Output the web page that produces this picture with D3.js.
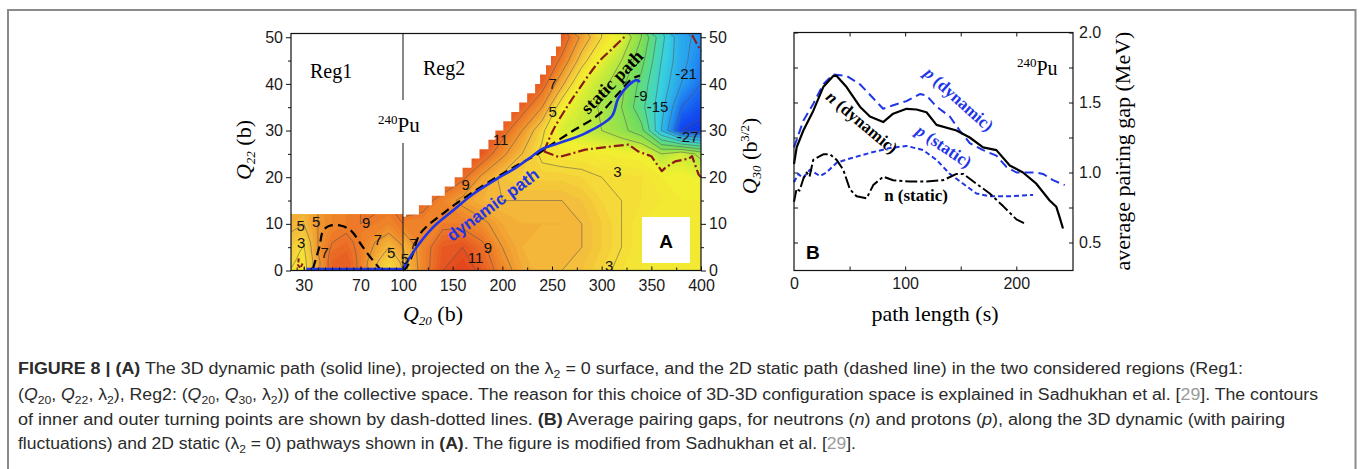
<!DOCTYPE html>
<html>
<head>
<meta charset="utf-8">
<title>Figure 8 - 240Pu fission paths</title>
<script src="https://d3js.org/d3.v7.min.js"></script>
<style>
  body { margin: 0; background: #fff; }
  #fig { display: block; }
  .tk text { font-family: "Liberation Sans", Arial, sans-serif; font-size: 16px; fill: #1a1a1a; }
  .tk line { stroke: #111; stroke-width: 1; }
  .serif { font-family: "Liberation Serif", "Times New Roman", serif; }
  .sans { font-family: "Liberation Sans", Arial, sans-serif; }
</style>
</head>
<body>
<svg id="fig" width="1360" height="469"></svg>
<script>
// ---------- panel A, Reg1: energy (MeV) on Q20 x Q22 grid, rows from Q22=0 up ----------
const reg1Q20 = [20, 30, 40, 50, 60, 70, 80, 90, 100];
const reg1Q22 = [0, 2, 4, 6, 8, 10, 12];
const reg1E = [
  [3.0, 2.0, 6.5, 10.0, 10.5, 8.5, 5.0, 3.0, 5.0],
  [3.5, 2.3, 6.5, 10.0, 10.5, 8.5, 5.5, 3.5, 5.5],
  [4.0, 2.6, 7.0, 9.5, 10.0, 8.5, 6.5, 4.5, 6.5],
  [4.5, 3.2, 7.0, 9.0, 9.5, 8.5, 7.0, 5.5, 7.5],
  [5.0, 4.3, 7.0, 8.5, 9.0, 8.5, 8.0, 7.0, 8.5],
  [5.5, 5.0, 7.0, 8.0, 8.5, 9.0, 8.5, 8.0, 9.0],
  [6.0, 5.5, 7.0, 8.0, 8.5, 9.0, 9.0, 8.5, 9.5]
];

// ---------- panel A, Reg2: energy (MeV) on Q20 x Q30 grid ----------
const reg2Q20 = [100, 120, 140, 160, 180, 200, 220, 240, 260, 280, 300, 320, 340, 360, 380, 400];
const reg2Q30 = [0, 5, 10, 15, 20, 25, 30, 35, 40, 45, 50];
const reg2E = [
  [4, 8, 11, 12, 10.5, 8, 6, 5, 5, 4.5, 3.5, 2.5, 2, 1.5, 1.5, 1.5],
  [5, 8, 10.5, 11, 9.5, 7, 5.5, 5, 5, 5, 4, 3, 2, 1.5, 1.5, 1.5],
  [8, 8, 8.5, 8.5, 7.5, 6, 5.5, 5.5, 5.5, 5, 4, 3, 2, 1.5, 1.5, 1.5],
  [11.5, 10, 8, 6.5, 5.5, 5, 5, 5, 5, 4.5, 3.5, 3, 2.5, 2, 1.5, 1.5],
  [11.5, 11.5, 11.5, 9.5, 6.5, 4.5, 3.8, 3.8, 3.8, 3.5, 3, 2.8, 2.5, 1.5, 1, 0.3],
  [11.5, 11.5, 11.5, 11.5, 10.5, 7.5, 5, 2.5, 2, 2, 1.5, 1.2, 1, -3, -1, -4],
  [11.5, 11.5, 11.5, 11.5, 11.5, 10, 7, 3.5, -0.5, -1.5, -3, -5, -8, -18, -27, -28],
  [11.5, 11.5, 11.5, 11.5, 11.5, 11.5, 10, 7, 1.5, -1, -3.5, -6, -11, -17, -24, -26],
  [11.5, 11.5, 11.5, 11.5, 11.5, 11.5, 11.5, 10, 5.5, 0.5, -2, -5, -10, -16, -21, -24],
  [11.5, 11.5, 11.5, 11.5, 11.5, 11.5, 11.5, 11.5, 8.5, 4, 0.2, -3, -8, -15, -20, -23],
  [11.5, 11.5, 11.5, 11.5, 11.5, 11.5, 11.5, 11.5, 10.5, 6.5, 3, 0, -6, -14, -20, -22]
];

// staircase edge of the computed Reg2 region (white above it)
const stairQ20 = [100, 103, 116, 129, 142, 152, 160, 169, 177, 186, 193, 201, 209, 217, 225, 233, 238, 244, 249, 254, 259];
const stairQ30 = [11.5, 12, 14, 16, 18, 20, 22, 24, 26, 28, 30, 32, 34, 36, 38, 40, 42, 44, 46, 48, 50];

// energy colour map
const cmapE = [-30, -26, -21, -16, -12, -8, -4, -1, 1, 3, 5, 7, 9, 11, 13, 15];
const cmapC = ['#0a1ed8', '#1450f0', '#28a0f0', '#38d0e0', '#50dca0', '#70dc60', '#a0e448', '#d0ec38',
               '#f2f030', '#f5dc38', '#f4bb3c', '#f0982e', '#ec7628', '#e65220', '#dc3418', '#d02010'];
const fillLevels = d3.range(-30, 14.01, 0.5);
const lines1 = [3, 5, 7, 9];
const lines2 = [3, 5, 7, 9, 11, -3, -6, -9, -12, -15, -18, -21, -24, -27];

// paths in panel A
const dyn1Q20 = [31.8, 100], dyn1Q22 = [0.3, 0.3];
const dyn2Q20 = [100, 113.7, 130, 150, 170, 193.4, 213.4, 230, 240, 257, 283.5, 310, 316.7, 327, 335, 338.5];
const dyn2Q30 = [0.4, 5, 9.2, 12.8, 16.3, 19.5, 22, 24.5, 26, 27.3, 29.4, 33, 36.9, 39.7, 40.8, 40.4];
const sta1Q20 = [36.5, 41.2, 43.6, 48.3, 56.5, 63.5, 69.5, 75.3, 83.6];
const sta1Q22 = [0.4, 5.3, 8.5, 9.6, 9.6, 8.5, 6.0, 3.5, 0.4];
const sta2Q20 = [100, 103.6, 110, 117, 143.8, 177, 210.4, 237.5, 246, 270, 297, 317, 330, 338.5];
const sta2Q30 = [0, 0.7, 3.6, 7.8, 12.8, 17.7, 22, 25.2, 26.5, 29.8, 33.4, 38, 41, 41.8];
const tp1Q20 = [26.5, 25.9, 27.5, 29.2], tp1Q22 = [2.6, 1.2, 0.5, 1.5];
const tpUpQ20 = [242, 250.5, 264, 277.5, 297, 310.5, 324];
const tpUpQ30 = [25.5, 29.8, 34.7, 39, 44.7, 47.5, 50.3];
const tpLoQ20 = [242, 257, 283.5, 310, 327, 337, 350, 360.5, 364, 374, 388, 391, 397.5, 400];
const tpLoQ30 = [25.5, 24.3, 25.9, 26.6, 27, 25.5, 24.5, 21.3, 22, 23.4, 24, 24.5, 20.6, 20];
const tpCornerQ20 = [391, 400], tpCornerQ30 = [50.5, 47];

// contour labels
const lab1 = ['5', '3', '5', '7', '9', '7', '5'];
const lab1Q20 = [27.8, 28.2, 38.8, 44.7, 74.0, 82.3, 91.7];
const lab1Q22 = [9.6, 6.0, 10.6, 3.9, 10.3, 6.7, 3.9];
const lab2 = ['7', '5', '11', '9', '7', '5', '9', '11', '3', '3', '-9', '-15', '-21', '-27'];
const lab2Q20 = [250.7, 250.7, 198.3, 163.2, 110.4, 102.0, 185.5, 173.1, 315.9, 307.5, 339.5, 356.3, 384.9, 386.6];
const lab2Q30 = [40.0, 34.0, 28.0, 18.4, 5.7, 2.5, 5.0, 2.7, 21.3, 1.1, 37.6, 35.1, 42.2, 28.7];

// ---------- panel B: average pairing gap (MeV) vs path length ----------
const nDynS = [0, 2.4, 8.4, 17.3, 26.3, 35.3, 38.4, 47.3, 59.3, 68.3, 80.2, 89.2, 101.2, 110.2, 119.2, 128.2, 146.2, 158.1, 170.1, 182.1, 194.1, 206, 218, 230, 236, 239, 242];
const nDynG = [1.06, 1.18, 1.30, 1.44, 1.61, 1.69, 1.69, 1.61, 1.47, 1.40, 1.36, 1.42, 1.455, 1.45, 1.43, 1.34, 1.30, 1.25, 1.18, 1.16, 1.05, 1.00, 0.92, 0.80, 0.755, 0.68, 0.60];
const pDynS = [0, 8.4, 17.3, 26.3, 35.3, 47.3, 59.3, 71.3, 80.2, 89.2, 101.2, 113.2, 119.2, 128.2, 140.2, 149.1, 158.1, 170.1, 182.1, 191.1, 200.1, 218, 224, 233, 243.5];
const pDynG = [1.18, 1.37, 1.49, 1.63, 1.70, 1.69, 1.63, 1.53, 1.455, 1.48, 1.51, 1.56, 1.55, 1.47, 1.40, 1.30, 1.21, 1.16, 1.12, 1.04, 1.00, 1.00, 0.99, 0.945, 0.91];
const nStaS = [0, 2.4, 5, 8.4, 11.4, 14, 17.3, 26.3, 32.3, 38.4, 44.3, 50.3, 56.3, 65.3, 71.3, 80.2, 89.2, 104.2, 119.2, 134.2, 146.2, 152.2, 164.1, 176.1, 188.1, 200.1, 209.1];
const nStaG = [0.79, 0.885, 0.87, 0.955, 1.0, 0.97, 1.09, 1.13, 1.13, 1.09, 1.02, 0.88, 0.83, 0.815, 0.91, 0.97, 0.945, 0.935, 0.935, 0.945, 0.99, 0.99, 0.92, 0.85, 0.76, 0.665, 0.63];
const pStaS = [0, 3.9, 8, 14.3, 23.3, 29.3, 38.4, 50.3, 68.3, 86.3, 101.2, 116.2, 128.2, 140.2, 152.2, 164.1, 176.1, 194.1, 215.1];
const pStaG = [0.93, 0.99, 0.96, 1.02, 0.975, 1.0, 1.07, 1.10, 1.14, 1.175, 1.19, 1.16, 1.09, 0.99, 0.92, 0.85, 0.83, 0.83, 0.84];

const svg = d3.select('#fig');
const blue = '#1f35e8', darkRed = '#8b1a1a';

// scales
const xR1 = d3.scaleLinear().domain([21, 100]).range([291, 403]);
const xR2 = d3.scaleLinear().domain([100, 400]).range([403, 701]);
const yA = d3.scaleLinear().domain([0, 50.8]).range([270.5, 33.5]);
const xB = d3.scaleLinear().domain([0, 251]).range([794, 1073]);
const yB = d3.scaleLinear().domain([0.3, 2.0]).range([270.5, 32.5]);
const colorE = d3.scaleLinear().domain(cmapE).range(cmapC).clamp(true);

// outer figure frame
svg.append('rect').attr('x', 8).attr('y', 10).attr('width', 1347.5).attr('height', 520)
  .attr('fill', 'none').attr('stroke', '#8a8a8a').attr('stroke-width', 2);

const defs = svg.append('defs');
defs.append('clipPath').attr('id', 'clipR1').append('rect')
  .attr('x', xR1(21)).attr('y', yA(12)).attr('width', xR1(100) - xR1(21)).attr('height', yA(0) - yA(12));
defs.append('clipPath').attr('id', 'clipR2').append('rect')
  .attr('x', xR2(100)).attr('y', yA(50.8)).attr('width', xR2(400) - xR2(100)).attr('height', yA(0) - yA(50.8));

function field(q1, q2, rows, xs, levels, clipId) {
  const nx = q1.length, ny = q2.length;
  const d1 = q1[1] - q1[0], d2 = q2[1] - q2[0];
  const path = d3.geoPath(d3.geoTransform({
    point(px, py) { this.stream.point(xs(q1[0] + (px - 0.5) * d1), yA(q2[0] + (py - 0.5) * d2)); }
  }));
  const vals = rows.flat();
  const g = svg.append('g').attr('clip-path', `url(#${clipId})`);
  g.selectAll('path.band')
    .data(d3.contours().size([nx, ny]).thresholds(fillLevels)(vals))
    .join('path').attr('class', 'band')
    .attr('d', path)
    .attr('fill', d => colorE(d.value + 0.25))
    .attr('stroke', d => colorE(d.value + 0.25)).attr('stroke-width', 0.4);
  g.selectAll('path.iso')
    .data(d3.contours().size([nx, ny]).thresholds(levels)(vals))
    .join('path').attr('class', 'iso')
    .attr('d', path).attr('fill', 'none')
    .attr('stroke', '#555').attr('stroke-width', 0.7).attr('stroke-opacity', 0.75);
}

field(reg1Q20, reg1Q22, reg1E, xR1, lines1, 'clipR1');
field(reg2Q20, reg2Q30, reg2E, xR2, lines2, 'clipR2');

// white area above the staircase (not computed)
svg.append('path')
  .datum(d3.zip(stairQ20, stairQ30))
  .attr('d', d3.area().x(d => xR2(d[0])).y0(yA(50.8)).y1(d => yA(d[1])).curve(d3.curveStepAfter))
  .attr('fill', '#fff');

// "A" box
svg.append('rect').attr('x', 642).attr('y', 217).attr('width', 48).attr('height', 46).attr('fill', '#fff');
svg.append('text').attr('class', 'sans').attr('x', 666).attr('y', 247.5).attr('text-anchor', 'middle')
  .attr('font-size', 19).attr('font-weight', 'bold').text('A');

function polyline(xq, yq, xs, ys, stroke, w, dash, curve) {
  svg.append('path').datum(d3.zip(xq, yq))
    .attr('d', d3.line().x(d => xs(d[0])).y(d => ys(d[1])).curve(curve || d3.curveLinear))
    .attr('fill', 'none').attr('stroke', stroke).attr('stroke-width', w)
    .attr('stroke-dasharray', dash).attr('stroke-linejoin', 'round');
}

// turning point contours
polyline(tp1Q20, tp1Q22, xR1, yA, darkRed, 2, '4,2');
polyline(tpUpQ20, tpUpQ30, xR2, yA, darkRed, 2.2, '10,3,2,3', d3.curveCatmullRom);
polyline(tpLoQ20, tpLoQ30, xR2, yA, darkRed, 2.2, '10,3,2,3');
polyline(tpCornerQ20, tpCornerQ30, xR2, yA, darkRed, 2, '10,3,2,3');
// static (dashed) and dynamic (solid) paths
polyline(sta1Q20, sta1Q22, xR1, yA, '#000', 2.2, '9,5', d3.curveCatmullRom);
polyline(sta2Q20, sta2Q30, xR2, yA, '#000', 2.2, '9,5', d3.curveCatmullRom);
polyline(dyn1Q20, dyn1Q22, xR1, yA, blue, 2.6, null);
polyline(dyn2Q20, dyn2Q30, xR2, yA, blue, 2.6, null, d3.curveCatmullRom);

// contour labels
function contourLabels(labs, xq, yq, xs) {
  svg.append('g').selectAll('text').data(labs).join('text')
    .attr('class', 'sans').attr('font-size', 15).attr('fill', '#111')
    .attr('text-anchor', 'middle').attr('dominant-baseline', 'central')
    .attr('x', (d, i) => xs(xq[i])).attr('y', (d, i) => yA(yq[i])).text(d => d);
}
contourLabels(lab1, lab1Q20, lab1Q22, xR1);
contourLabels(lab2, lab2Q20, lab2Q30, xR2);

// panel A frame, divider and axes
svg.append('rect').attr('x', 291).attr('y', yA(50.8)).attr('width', 701 - 291).attr('height', yA(0) - yA(50.8))
  .attr('fill', 'none').attr('stroke', '#111').attr('stroke-width', 1.2);
svg.append('line').attr('x1', 403).attr('x2', 403).attr('y1', yA(50.8)).attr('y2', 100).attr('stroke', '#111');
svg.append('line').attr('x1', 403).attr('x2', 403).attr('y1', 143).attr('y2', yA(0)).attr('stroke', '#111');

function axis(tx, ty, gen) {
  const a = svg.append('g').attr('class', 'tk').attr('transform', `translate(${tx},${ty})`).call(gen);
  a.select('.domain').remove();
  return a;
}
const majA = d3.range(0, 51, 10), minA = d3.range(5, 50, 10);
axis(291, 0, d3.axisLeft(yA).tickValues(majA).tickSize(5).tickPadding(3));
axis(291, 0, d3.axisLeft(yA).tickValues(minA).tickSize(3).tickFormat(''));
axis(701, 0, d3.axisRight(yA).tickValues(majA).tickSize(5).tickPadding(3));
axis(701, 0, d3.axisRight(yA).tickValues(minA).tickSize(3).tickFormat(''));
axis(0, yA(0), d3.axisBottom(xR1).tickValues([30, 70]).tickSize(-4).tickPadding(9));
axis(0, yA(0), d3.axisBottom(xR1).tickValues(d3.range(25, 100, 5)).tickSize(-3).tickFormat(''));
axis(0, yA(0), d3.axisBottom(xR2).tickValues(d3.range(100, 401, 50)).tickSize(-4).tickPadding(9));
axis(0, yA(0), d3.axisBottom(xR2).tickValues(d3.range(125, 400, 50)).tickSize(-3).tickFormat(''));

// rich text helper: parts = [text, kind]; kinds: b, i, bi, sub, sup, ref
function rich(sel, parts, subSize) {
  let shift = 0;
  parts.forEach(([s, k]) => {
    const want = k === 'sub' ? 4 : (k === 'sup' ? -8 : 0);
    const ts = sel.append('tspan').text(s);
    if (want !== shift) { ts.attr('dy', want - shift); shift = want; }
    if (k === 'b' || k === 'bi') ts.attr('font-weight', 'bold');
    if (k === 'i' || k === 'bi') ts.attr('font-style', 'italic');
    if (k === 'sub' || k === 'sup') ts.attr('font-size', subSize);
    if (k === 'ref') ts.attr('fill', '#9a9a9a');
  });
  return sel;
}

// panel A texts
svg.append('text').attr('class', 'serif').attr('x', 310).attr('y', 78).attr('font-size', 20).text('Reg1');
svg.append('text').attr('class', 'serif').attr('x', 423).attr('y', 75).attr('font-size', 20).text('Reg2');
rich(svg.append('text').attr('class', 'serif').attr('x', 378).attr('y', 132).attr('font-size', 21),
  [['240', 'sup'], ['Pu', '']], 13);
svg.append('text').attr('class', 'sans').attr('font-size', 17).attr('font-weight', 'bold').attr('fill', blue)
  .attr('text-anchor', 'middle').attr('dominant-baseline', 'central')
  .attr('transform', 'translate(493,205) rotate(-36.5)').text('dynamic path');
svg.append('text').attr('class', 'serif').attr('font-size', 18).attr('font-weight', 'bold').attr('fill', '#000')
  .attr('text-anchor', 'middle').attr('dominant-baseline', 'central')
  .attr('transform', 'translate(612,82) rotate(-46)').text('static path');

rich(svg.append('text').attr('class', 'serif').attr('font-size', 22).attr('text-anchor', 'middle')
  .attr('transform', 'translate(251,150) rotate(-90)'),
  [['Q', 'i'], ['22', 'sub'], [' (b)', '']], 13).selectAll('tspan').filter((d, i) => i === 1).attr('font-style', 'italic');
rich(svg.append('text').attr('class', 'serif').attr('font-size', 22).attr('text-anchor', 'middle')
  .attr('x', 433).attr('y', 321),
  [['Q', 'i'], ['20', 'sub'], [' (b)', '']], 13).selectAll('tspan').filter((d, i) => i === 1).attr('font-style', 'italic');
rich(svg.append('text').attr('class', 'serif').attr('font-size', 22).attr('text-anchor', 'middle')
  .attr('transform', 'translate(757,156) rotate(-90)'),
  [['Q', 'i'], ['30', 'sub'], [' (b', ''], ['3/2', 'sup'], [')', '']], 13).selectAll('tspan').filter((d, i) => i === 1).attr('font-style', 'italic');

// ---------- panel B ----------
polyline(pStaS, pStaG, xB, yB, blue, 2, '5,3');
polyline(nStaS, nStaG, xB, yB, '#000', 2, '12,3,3,3');
polyline(pDynS, pDynG, xB, yB, blue, 2, '9,5');
polyline(nDynS, nDynG, xB, yB, '#000', 2.2, null);

svg.append('rect').attr('x', 794).attr('y', yB(2.0)).attr('width', 1073 - 794).attr('height', yB(0.3) - yB(2.0))
  .attr('fill', 'none').attr('stroke', '#111').attr('stroke-width', 1.2);
const gapTicks = d3.range(0.5, 2.01, 0.25), sTicks = [50, 100, 150, 200];
axis(794, 0, d3.axisLeft(yB).tickValues(gapTicks).tickSize(-4).tickFormat(''));
axis(1073, 0, d3.axisRight(yB).tickValues(gapTicks).tickSize(-4).tickFormat(''));
axis(1073, 0, d3.axisRight(yB).tickValues([0.5, 1.0, 1.5, 2.0]).tickSize(0).tickPadding(6).tickFormat(d3.format('.1f')));
axis(0, yB(0.3), d3.axisBottom(xB).tickValues(sTicks).tickSize(-4).tickFormat(''));
axis(0, yB(2.0), d3.axisTop(xB).tickValues(sTicks).tickSize(-4).tickFormat(''));
axis(0, yB(0.3), d3.axisBottom(xB).tickValues([0, 100, 200]).tickSize(0).tickPadding(7));

svg.append('text').attr('class', 'serif').attr('font-size', 22).attr('text-anchor', 'middle')
  .attr('x', 935).attr('y', 321).text('path length (s)');
svg.append('text').attr('class', 'serif').attr('font-size', 22).attr('text-anchor', 'middle')
  .attr('transform', 'translate(1130,151) rotate(-90)').text('average pairing gap (MeV)');
rich(svg.append('text').attr('class', 'serif').attr('x', 1017).attr('y', 75).attr('font-size', 20),
  [['240', 'sup'], ['Pu', '']], 13);
svg.append('text').attr('class', 'sans').attr('x', 806).attr('y', 259).attr('font-size', 19)
  .attr('font-weight', 'bold').text('B');

function curveLabel(parts, x, y, angle, color) {
  rich(svg.append('text').attr('class', 'serif').attr('font-size', 17).attr('font-weight', 'bold')
    .attr('fill', color).attr('text-anchor', 'middle').attr('dominant-baseline', 'central')
    .attr('transform', `translate(${x},${y}) rotate(${angle})`), parts, 12);
}
curveLabel([['n', 'bi'], [' (dynamic)', 'b']], 862, 122, 40, '#000');
curveLabel([['p', 'bi'], [' (dynamic)', 'b']], 959, 99, 42, blue);
curveLabel([['p', 'bi'], [' (static)', 'b']], 944, 146, 34, blue);
curveLabel([['n', 'b'], [' (static)', 'b']], 916, 195, 0, '#000');

// ---------- caption ----------
const capLines = [
  [[['FIGURE 8 | (A)', 'b'], [' The 3D dynamic path (solid line), projected on the λ', ''], ['2', 'sub'],
    [' = 0 surface, and the 2D static path (dashed line) in the two considered regions (Reg1:', '']], 374, 1225],
  [[['(', ''], ['Q', 'i'], ['20', 'sub'], [', ', ''], ['Q', 'i'], ['22', 'sub'], [', λ', ''], ['2', 'sub'],
    ['), Reg2: (', ''], ['Q', 'i'], ['20', 'sub'], [', ', ''], ['Q', 'i'], ['30', 'sub'], [', λ', ''], ['2', 'sub'],
    [')) of the collective space. The reason for this choice of 3D-3D configuration space is explained in Sadhukhan et al. [', ''],
    ['29', 'ref'], ['].  The contours', '']], 400, 1300],
  [[['of inner and outer turning points are shown by dash-dotted lines. ', ''], ['(B)', 'b'],
    [' Average pairing gaps, for neutrons (', ''], ['n', 'i'], [') and protons (', ''], ['p', 'i'],
    ['), along the 3D dynamic (with pairing', '']], 425, 1267],
  [[['fluctuations) and 2D static (λ', ''], ['2', 'sub'], [' = 0) pathways shown in ', ''], ['(A)', 'b'],
    ['. The figure is modified from Sadhukhan et al. [', ''], ['29', 'ref'], [']. ', '']], 449, 838]
];
capLines.forEach(([parts, y, len]) => {
  rich(svg.append('text').attr('class', 'sans').attr('x', 18).attr('y', y).attr('font-size', 16)
    .attr('fill', '#2b2b2b').attr('textLength', len).attr('lengthAdjust', 'spacingAndGlyphs'), parts, 11);
});
</script>
</body>
</html>
